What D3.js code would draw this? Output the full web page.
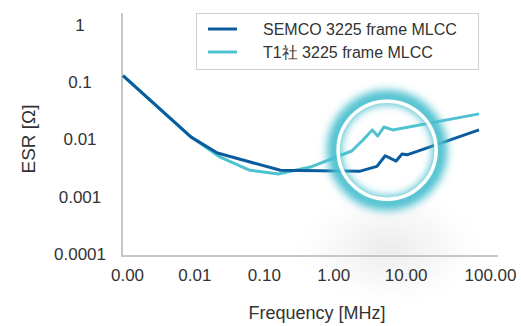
<!DOCTYPE html>
<html>
<head>
<meta charset="utf-8">
<script src="https://cdn.jsdelivr.net/npm/d3@7"></script>
<style>
  body { margin: 0; background: #fff; }
  svg { display: block; font-family: "Liberation Sans", Arial, sans-serif; }
  .tick text { fill: #333; }
</style>
</head>
<body>
<svg width="521" height="326"></svg>
<script>
// ESR vs frequency
const seriesNames = ['SEMCO 3225 frame MLCC', 'T1社 3225 frame MLCC'];
const seriesColors = ['#0b5c9e', '#4fc2d0'];

const freqSemco = [0.001, 0.009, 0.021, 0.16, 2.1, 3.6, 4.7, 6.7, 8.1, 9.5, 97];
const esrSemco = [0.13, 0.011, 0.0058, 0.0029, 0.0028, 0.0034, 0.0052, 0.0042, 0.0056, 0.0054, 0.0147];

const freqT1 = [0.001, 0.009, 0.023, 0.06, 0.15, 0.42, 1.6, 2.3, 3.1, 3.7, 4.5, 6.0, 97];
const esrT1 = [0.13, 0.011, 0.0049, 0.0029, 0.0025, 0.0033, 0.0063, 0.0098, 0.0147, 0.0115, 0.0165, 0.0147, 0.028];

const xTicks = [0.001, 0.01, 0.1, 1, 10, 100];
const yTicks = [1, 0.1, 0.01, 0.001, 0.0001];
const yTickLabels = ['1', '0.1', '0.01', '0.001', '0.0001'];

const svg = d3.select('svg');
const defs = svg.append('defs');

const xScale = d3.scaleLog().domain([0.001, 100]).range([123, 480]);
const yScale = d3.scaleLog().domain([0.0001, 1]).range([254, 25]);

// soft grey shadow under the highlight
const grad = defs.append('radialGradient').attr('id', 'shade');
grad.append('stop').attr('offset', '0%').attr('stop-color', '#d8d8d8').attr('stop-opacity', 0.5);
grad.append('stop').attr('offset', '60%').attr('stop-color', '#e4e4e4').attr('stop-opacity', 0.22);
grad.append('stop').attr('offset', '100%').attr('stop-color', '#fff').attr('stop-opacity', 0);
svg.append('ellipse')
  .attr('cx', 390).attr('cy', 248)
  .attr('rx', 100).attr('ry', 60)
  .attr('fill', 'url(#shade)');

// axis lines
const axisColor = '#c6c6c6';
svg.append('line')
  .attr('x1', 122).attr('x2', 122).attr('y1', 13).attr('y2', 257)
  .attr('stroke', axisColor).attr('stroke-width', 2);
svg.append('line')
  .attr('x1', 121).attr('x2', 498).attr('y1', 256).attr('y2', 256)
  .attr('stroke', axisColor).attr('stroke-width', 2);

// x axis labels
const xAxis = svg.append('g')
  .attr('transform', 'translate(0, 266)')
  .call(d3.axisBottom(xScale).tickValues(xTicks).tickFormat(d3.format('.2f')).tickSize(0));
xAxis.select('.domain').remove();
const xNudge = [4, 0, -2, -4, -3, 10];
xAxis.selectAll('text')
  .attr('dx', (d, i) => xNudge[i])
  .attr('font-size', 17)
  .attr('font-family', '"Liberation Sans", Arial, sans-serif');

// y axis labels (centred in their column)
const yAxis = svg.append('g')
  .attr('transform', 'translate(122, 0)')
  .call(d3.axisLeft(yScale).tickValues(yTicks).tickFormat((d, i) => yTickLabels[i]).tickSize(0));
yAxis.select('.domain').remove();
yAxis.selectAll('text')
  .attr('text-anchor', 'middle')
  .attr('x', -42)
  .attr('font-size', 17)
  .attr('font-family', '"Liberation Sans", Arial, sans-serif');

// axis titles
svg.append('text')
  .attr('x', 317).attr('y', 319)
  .attr('text-anchor', 'middle')
  .attr('font-size', 18).attr('fill', '#333')
  .text('Frequency [MHz]');

svg.append('text')
  .attr('transform', 'translate(35, 139) rotate(-90)')
  .attr('text-anchor', 'middle')
  .attr('font-size', 19).attr('fill', '#333')
  .text('ESR [Ω]');

// lines
const line = d3.line()
  .x(d => xScale(d[0]))
  .y(d => yScale(d[1]));

const semco = freqSemco.map((f, i) => [f, esrSemco[i]]);
const t1 = freqT1.map((f, i) => [f, esrT1[i]]);

svg.append('path')
  .datum(t1)
  .attr('d', line)
  .attr('fill', 'none')
  .attr('stroke', seriesColors[1])
  .attr('stroke-width', 3)
  .attr('stroke-linejoin', 'round');

svg.append('path')
  .datum(semco)
  .attr('d', line)
  .attr('fill', 'none')
  .attr('stroke', seriesColors[0])
  .attr('stroke-width', 3)
  .attr('stroke-linejoin', 'round');

// highlight circle with glow
const glow = defs.append('filter').attr('id', 'glow')
  .attr('x', '-50%').attr('y', '-50%').attr('width', '200%').attr('height', '200%');
glow.append('feGaussianBlur').attr('stdDeviation', 4);

const cx = xScale(5), cy = yScale(0.0065), r = 49;
svg.append('circle')
  .attr('cx', cx).attr('cy', cy).attr('r', r + 4)
  .attr('fill', 'none')
  .attr('stroke', '#4cc0cf')
  .attr('stroke-width', 14)
  .attr('filter', 'url(#glow)');
svg.append('circle')
  .attr('cx', cx).attr('cy', cy).attr('r', r)
  .attr('fill', 'none')
  .attr('stroke', '#fff')
  .attr('stroke-width', 3.5);

// legend
const legend = svg.append('g');
legend.append('rect')
  .attr('x', 196.5).attr('y', 13.5)
  .attr('width', 282).attr('height', 56)
  .attr('fill', '#fff')
  .attr('stroke', '#cfcfcf');

seriesNames.forEach((name, i) => {
  const y = 29 + i * 23;
  legend.append('line')
    .attr('x1', 208).attr('x2', 237)
    .attr('y1', y).attr('y2', y)
    .attr('stroke', seriesColors[i])
    .attr('stroke-width', 3);
  legend.append('text')
    .attr('x', 263).attr('y', y + 6)
    .attr('font-size', 16).attr('fill', '#333')
    .text(name);
});
</script>
</body>
</html>
